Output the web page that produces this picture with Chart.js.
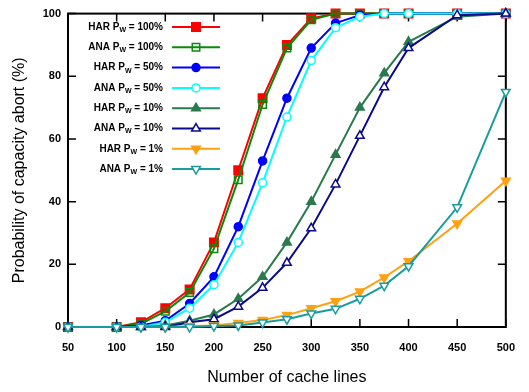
<!DOCTYPE html>
<html lang="en">
  <head>
    <meta charset="UTF-8" />
    <title>Probability of capacity abort</title>
    <script src="https://cdn.jsdelivr.net/npm/chart.js"></script>
    <style>
      body { margin: 0; background: white; }
    </style>
  </head>
  <body>
    <canvas id="abortChart" width="529" height="392"></canvas>

    <script>
      // x values: number of cache lines
      const cacheLines = [50, 100, 125, 150, 175, 200, 225, 250, 275, 300, 325, 350, 375, 400, 450, 500];

      // probability of capacity abort (%) per series
      const har100 = [0, 0, 1.5, 6, 12, 27, 50, 73, 90, 98.5, 100, 100, 100, 100, 100, 100];
      const ana100 = [0, 0, 1, 5, 11, 25, 47, 71, 89, 98, 100, 100, 100, 100, 100, 100];
      const har50 = [0, 0, 0.5, 2, 7.5, 16, 32, 53, 73, 89, 97, 99.5, 100, 100, 100, 100];
      const ana50 = [0, 0, 0, 1.5, 6, 13.5, 27, 46, 67, 85, 95.5, 99, 100, 100, 100, 100];
      const har10 = [0, 0, 0, 0.5, 2, 4, 9, 16, 27, 40, 55, 70, 81, 91, 99, 100];
      const ana10 = [0, 0, 0, 0, 1.5, 2.5, 6.5, 12.5, 20.5, 31.5, 45.5, 61, 76.5, 89, 99.5, 100];
      const har1 = [0, 0, 0, 0, 0.3, 0.5, 1.3, 2.2, 3.8, 6, 8.2, 11.3, 15.8, 21, 33, 46.7];
      const ana1 = [0, 0, 0, 0, 0, 0.3, 0.5, 1.4, 2.5, 4.3, 5.8, 9, 13.2, 19.4, 38.2, 75];

      const schemes = ["HAR", "ANA", "HAR", "ANA", "HAR", "ANA", "HAR", "ANA"];
      const writeProbs = ["100%", "100%", "50%", "50%", "10%", "10%", "1%", "1%"];
      const xTicks = [50, 100, 150, 200, 250, 300, 350, 400, 450, 500];
      const yTicks = [0, 20, 40, 60, 80, 100];

      const allValues = [har100, ana100, har50, ana50, har10, ana10, har1, ana1];
      const colors = ["#ff0000", "#0a8a0a", "#0000ff", "#00ffff", "#2a7a4e", "#0a0a8c", "#ffa010", "#1a9c9c"];
      const markers = ["rect", "rect", "circle", "circle", "triangle", "triangle", "triangle", "triangle"];
      const filled = [true, false, true, false, true, false, true, false];
      const radii = [6, 5.3, 4, 4, 5, 5, 5, 5];
      const rotations = [0, 0, 0, 0, 0, 0, 180, 180];

      const datasets = allValues.map(function (vals, i) {
        return {
          label: schemes[i] + " P_W = " + writeProbs[i],
          data: vals.map(function (v, j) { return { x: cacheLines[j], y: v }; }),
          borderColor: colors[i],
          borderWidth: 2,
          pointStyle: markers[i],
          pointRadius: radii[i],
          pointRotation: rotations[i],
          pointBorderColor: colors[i],
          pointBorderWidth: 1.5,
          pointBackgroundColor: filled[i] ? colors[i] : (markers[i] == "rect" ? "rgba(0,0,0,0)" : "#ffffff"),
          tension: 0,
          clip: false,
          order: 8 - i, // later series drawn on top
        };
      });

      // small marker drawer for the legend
      function drawMarker(ctx, style, x, y, r, rot) {
        ctx.beginPath();
        if (style == "rect") {
          const s = Math.SQRT1_2 * r;
          ctx.rect(x - s, y - s, 2 * s, 2 * s);
        } else if (style == "circle") {
          ctx.arc(x, y, r, 0, Math.PI * 2);
        } else {
          let a = rot * Math.PI / 180;
          for (let k = 0; k < 3; k++) {
            const px = x + Math.sin(a) * r;
            const py = y - Math.cos(a) * r;
            if (k == 0) ctx.moveTo(px, py); else ctx.lineTo(px, py);
            a += Math.PI * 2 / 3;
          }
          ctx.closePath();
        }
      }

      // gnuplot style frame with inward ticks
      const framePlugin = {
        id: "frame",
        beforeDatasetsDraw(chart) {
          const ctx = chart.ctx;
          const a = chart.chartArea;
          const xs = chart.scales.x, ys = chart.scales.y;
          ctx.save();
          ctx.strokeStyle = "#000";
          ctx.lineWidth = 1.5;
          ctx.beginPath();
          xTicks.forEach(function (t) {
            const px = xs.getPixelForValue(t);
            ctx.moveTo(px, a.bottom); ctx.lineTo(px, a.bottom - 8);
            ctx.moveTo(px, a.top); ctx.lineTo(px, a.top + 8);
          });
          yTicks.forEach(function (t) {
            const py = ys.getPixelForValue(t);
            ctx.moveTo(a.left, py); ctx.lineTo(a.left + 8, py);
            ctx.moveTo(a.right, py); ctx.lineTo(a.right - 8, py);
          });
          ctx.stroke();
          ctx.lineWidth = 2;
          ctx.strokeRect(a.left, a.top, a.right - a.left, a.bottom - a.top);
          ctx.restore();
        },
      };

      // legend inside the plot, text with subscript W
      const legendPlugin = {
        id: "pwLegend",
        afterDatasetsDraw(chart) {
          const ctx = chart.ctx;
          const mainFont = "bold 10px 'Liberation Sans', Arial, sans-serif";
          const subFont = "bold 7px 'Liberation Sans', Arial, sans-serif";
          ctx.save();
          ctx.textBaseline = "middle";
          ctx.textAlign = "left";
          for (let i = 0; i < 8; i++) {
            const y = 27 + i * 20.3;
            const p1 = schemes[i] + " P";
            const p3 = " = " + writeProbs[i];
            ctx.font = mainFont;
            const w1 = ctx.measureText(p1).width;
            const w3 = ctx.measureText(p3).width;
            ctx.font = subFont;
            const ws = ctx.measureText("W").width;
            let x = 163 - (w1 + ws + w3);
            ctx.fillStyle = "#000";
            ctx.font = mainFont;
            ctx.fillText(p1, x, y);
            x += w1;
            ctx.font = subFont;
            ctx.fillText("W", x, y + 3);
            x += ws;
            ctx.font = mainFont;
            ctx.fillText(p3, x, y);

            ctx.strokeStyle = colors[i];
            ctx.lineWidth = 2;
            ctx.beginPath();
            ctx.moveTo(172, y); ctx.lineTo(220, y);
            ctx.stroke();
            drawMarker(ctx, markers[i], 196, y, radii[i], rotations[i]);
            ctx.fillStyle = datasets[i].pointBackgroundColor;
            ctx.fill();
            ctx.lineWidth = 1.5;
            ctx.stroke();
          }
          ctx.restore();
        },
      };

      const tickFont = { family: "'Liberation Sans', Arial, sans-serif", size: 11, weight: "bold" };
      const titleFont = { family: "'Liberation Sans', Arial, sans-serif", size: 16 };

      const ctx = document.getElementById("abortChart").getContext("2d");
      new Chart(ctx, {
        type: "line",
        data: { datasets: datasets },
        options: {
          responsive: false,
          animation: false,
          layout: { padding: { left: 4, right: 15, top: 8, bottom: 0 } },
          plugins: { legend: { display: false }, tooltip: { enabled: false } },
          scales: {
            x: {
              type: "linear",
              min: 50,
              max: 500,
              afterBuildTicks(scale) { scale.ticks = xTicks.map(function (v) { return { value: v }; }); },
              afterFit(scale) { scale.height = 65; },
              grid: { display: false, drawTicks: false },
              border: { display: false },
              ticks: { color: "#000", font: tickFont, padding: 14, maxRotation: 0, autoSkip: false },
              title: { display: true, text: "Number of cache lines", color: "#000", font: titleFont, padding: { bottom: 5 } },
            },
            y: {
              min: 0,
              max: 100,
              afterBuildTicks(scale) { scale.ticks = yTicks.map(function (v) { return { value: v }; }); },
              afterFit(scale) { scale.width = 64; },
              grid: { display: false, drawTicks: false },
              border: { display: false },
              ticks: { color: "#000", font: tickFont, padding: 7 },
              title: { display: true, text: "Probability of capacity abort (%)", color: "#000", font: titleFont, padding: { top: 6 } },
            },
          },
        },
        plugins: [framePlugin, legendPlugin],
      });
    </script>
  </body>
</html>
